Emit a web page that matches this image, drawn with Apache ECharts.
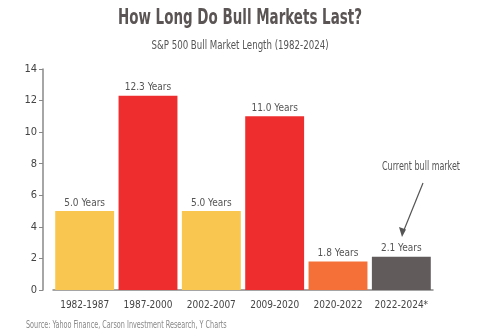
<!DOCTYPE html>
<html>
<head>
<meta charset="utf-8">
<script src="https://cdn.jsdelivr.net/npm/echarts@6/dist/echarts.min.js"></script>
<style>html,body{margin:0;padding:0;background:#fff}#c{width:480px;height:336px}</style>
</head>
<body>
<div id="c"></div>
<script>
const categories = ['1982-1987','1987-2000','2002-2007','2009-2020','2020-2022','2022-2024*'];
const values = [5.0, 12.3, 5.0, 11.0, 1.8, 2.1];
const barColors = ['#F9C74F','#EE2E2E','#F9C74F','#EE2E2E','#F47038','#625B5B'];
const yTicks = [0,2,4,6,8,10,12,14];
const titleText = 'How Long Do Bull Markets Last?';
const subtitleText = 'S&P 500 Bull Market Length (1982-2024)';
const sourceText = 'Source: Yahoo Finance, Carson Investment Research, Y Charts';
const noteText = 'Current bull market';

const FONT = '"Liberation Sans Narrow","DejaVu Sans Condensed","Roboto",sans-serif';
const chart = echarts.init(document.getElementById('c'));
chart.setOption({
  animation: false,
  textStyle: {fontFamily: FONT},
  grid: {left: 53, right: 47, top: 69, bottom: 46, containLabel: false},
  xAxis: {
    type: 'category', data: categories,
    axisLine: {lineStyle: {color: '#888', width: 1.5}},
    axisTick: {show: false},
    axisLabel: {color: '#444', fontSize: 10, fontFamily: FONT, margin: 10, interval: 0}
  },
  yAxis: {
    type: 'value', min: 0, max: 14, interval: 2, offset: 10,
    axisLine: {show: true, lineStyle: {color: '#888', width: 1.5}},
    axisTick: {show: true, length: 4, lineStyle: {color: '#888'}},
    splitLine: {show: false},
    axisLabel: {color: '#444', fontSize: 11, fontFamily: FONT, margin: 6,
      formatter: v => yTicks.includes(v) ? String(v) : ''}
  },
  series: [{
    type: 'bar',
    barCategoryGap: '7%',
    data: values.map((v, i) => ({value: v, itemStyle: {color: barColors[i]}})),
    label: {show: true, position: 'top', distance: 3, color: '#555', fontSize: 10,
      fontFamily: FONT, formatter: p => p.value.toFixed(1) + ' Years'}
  }],
  graphic: [
    {type: 'text', x: 240, y: 18, scaleX: 0.68,
     style: {text: titleText, fill: '#5A5454', font: 'bold 22px ' + FONT, align: 'center', verticalAlign: 'middle'}},
    {type: 'text', x: 240, y: 46, scaleX: 0.8,
     style: {text: subtitleText, fill: '#555', font: '12px ' + FONT, align: 'center', verticalAlign: 'middle'}},
    {type: 'text', x: 26, y: 325, scaleX: 0.72,
     style: {text: sourceText, fill: '#888', font: '10px ' + FONT, align: 'left', verticalAlign: 'middle'}},
    {type: 'text', x: 421, y: 167, scaleX: 0.74,
     style: {text: noteText, fill: '#555', font: '12px ' + FONT, align: 'center', verticalAlign: 'middle'}},
    {type: 'line', shape: {x1: 423, y1: 183, x2: 404, y2: 230},
     style: {stroke: '#555', lineWidth: 1.2}},
    {type: 'polygon', shape: {points: [[402, 237], [399, 227], [406, 229.5]]},
     style: {fill: '#555'}}
  ]
});
</script>
</body>
</html>
